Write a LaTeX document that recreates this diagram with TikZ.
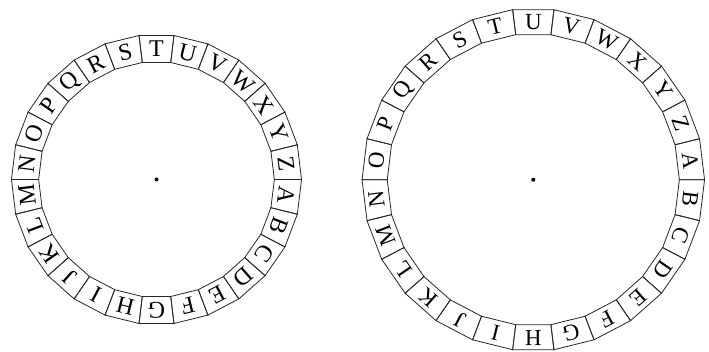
\documentclass[tikz,border=0pt]{standalone}
\usepackage{fontspec}
\setmainfont{Liberation Serif}
\usetikzlibrary{calc}

\begin{document}
\begin{tikzpicture}[
  x=1pt, y=1pt,
  ring/.style   ={draw=black!85, line width=0.8pt, line join=miter},
  glyph/.style  ={inner sep=0pt, anchor=center},
  pivot/.style  ={circle, fill=black, inner sep=0pt, minimum size=4pt}
]
  \useasboundingbox (0,0) rectangle (709,352);

  % left wheel: T at the top
  \coordinate (lc) at (156.5,172.5);
  \foreach \k [count=\i from 0] in {A,B,C,D,E,F,G,H,I,J,K,L,M,N,O,P,Q,R,S,T,U,V,W,X,Y,Z} {
    \pgfmathsetmacro{\ang}{90-(\i-19)*360/26}
    \draw[ring] ($(lc)+(\ang-6.923:145.05)$) -- ($(lc)+(\ang+6.923:145.05)$)
                -- ($(lc)+(\ang+6.923:117.85)$) -- ($(lc)+(\ang-6.923:117.85)$) -- cycle;
    \node[glyph, rotate=\ang-90, font=\fontsize{24}{24}\selectfont] (l\k)
      at ($(lc)+(\ang:130.5)$) {\k};
  }
  \node[pivot] (lpin) at (lc) {};

  % right wheel: U at the top
  \coordinate (rc) at (533.3,172.3);
  \foreach \k [count=\i from 0] in {A,B,C,D,E,F,G,H,I,J,K,L,M,N,O,P,Q,R,S,T,U,V,W,X,Y,Z} {
    \pgfmathsetmacro{\ang}{90-(\i-20)*360/26}
    \draw[ring] ($(rc)+(\ang-6.923:171.25)$) -- ($(rc)+(\ang+6.923:171.25)$)
                -- ($(rc)+(\ang+6.923:146.05)$) -- ($(rc)+(\ang-6.923:146.05)$) -- cycle;
    \node[glyph, rotate=\ang-90, font=\fontsize{23}{23}\selectfont] (r\k)
      at ($(rc)+(\ang:158)$) {\k};
  }
  \node[pivot] (rpin) at (rc) {};
\end{tikzpicture}
\end{document}
